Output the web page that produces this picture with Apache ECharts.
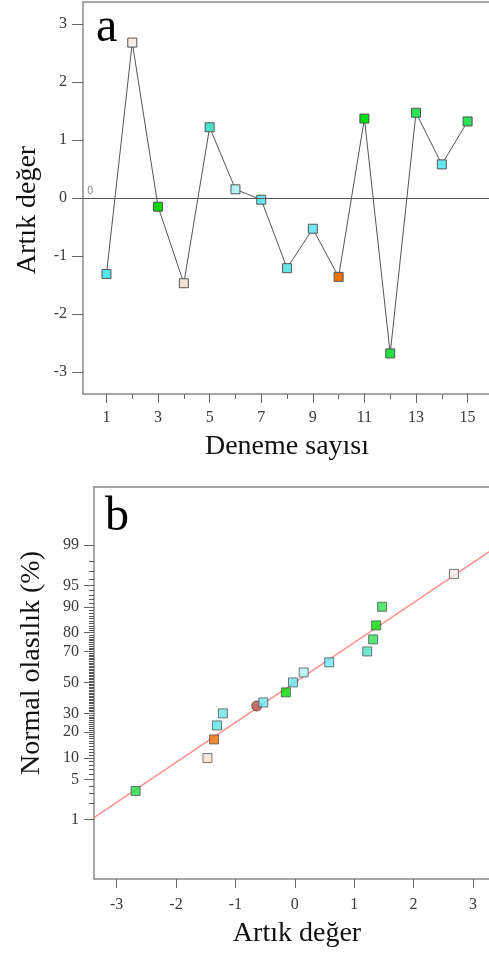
<!DOCTYPE html>
<html>
<head>
<meta charset="utf-8">
<script src="https://cdn.jsdelivr.net/npm/echarts@6/dist/echarts.min.js"></script>
<style>
html,body{margin:0;padding:0;background:#fff;}
#chart{width:489px;height:954px;}
</style>
</head>
<body>
<div id="chart"></div>
<script>
// ---------- DATA ----------
const runs = [1, 2, 3, 4, 5, 6, 7, 8, 9, 10, 11, 12, 13, 14, 15];
const residuals = [-1.31, 2.68, -0.15, -1.47, 1.22, 0.15, -0.03, -1.21, -0.53, -1.36, 1.37, -2.68, 1.47, 0.58, 1.32];
const normalProb = [23.3, 96.7, 43.3, 10.0, 70.0, 56.7, 50.0, 30.0, 36.7, 16.7, 83.3, 3.3, 90.0, 63.3, 76.7];
const pointColors = ['#55e6e6', '#f8efe6', '#00d800', '#f2e2d2', '#48e2c8', '#b0f4f4', '#66e6ee', '#66e6e6',
                     '#70e8f2', '#f07000', '#00e000', '#22e044', '#2ee055', '#66e8f2', '#2ee055'];
const circleResidual = [-0.64];
const circleProb = [34.5];
const fitLineX = [-3.38, 3.27];
const fitLineProb = [1.1, 98.65];

const runLabelTicks = [1, 3, 5, 7, 9, 11, 13, 15];
const runMinorTicks = [2, 4, 6, 8, 10, 12, 14];
const residualTicksA = [-3, -2, -1, 0, 1, 2, 3];
const residualTicksB = [-3, -2, -1, 0, 1, 2, 3];
const probTickLabels = [1, 5, 10, 20, 30, 50, 70, 80, 90, 95, 99];

// ---------- helpers ----------
function probit(p) {
  // Acklam inverse normal CDF
  const a = [-3.969683028665376e+01, 2.209460984245205e+02, -2.759285104469687e+02, 1.383577518672690e+02, -3.066479806614716e+01, 2.506628277459239e+00];
  const b = [-5.447609879822406e+01, 1.615858368580409e+02, -1.556989798598866e+02, 6.680131188771972e+01, -1.328068155288572e+01];
  const c = [-7.784894002430293e-03, -3.223964580411365e-01, -2.400758277161838e+00, -2.549732539343734e+00, 4.374664141464968e+00, 2.938163982698783e+00];
  const d = [7.784695709041462e-03, 3.224671290700398e-01, 2.445134137142996e+00, 3.754408661907416e+00];
  const pl = 0.02425, ph = 1 - pl;
  let q, r;
  if (p < pl) {
    q = Math.sqrt(-2 * Math.log(p));
    return (((((c[0]*q+c[1])*q+c[2])*q+c[3])*q+c[4])*q+c[5]) / ((((d[0]*q+d[1])*q+d[2])*q+d[3])*q+1);
  } else if (p <= ph) {
    q = p - 0.5; r = q * q;
    return (((((a[0]*r+a[1])*r+a[2])*r+a[3])*r+a[4])*r+a[5])*q / (((((b[0]*r+b[1])*r+b[2])*r+b[3])*r+b[4])*r+1);
  } else {
    q = Math.sqrt(-2 * Math.log(1 - p));
    return -(((((c[0]*q+c[1])*q+c[2])*q+c[3])*q+c[4])*q+c[5]) / ((((d[0]*q+d[1])*q+d[2])*q+d[3])*q+1);
  }
}
const zOf = pct => probit(pct / 100);

const minorProb = [];
for (let v = 2; v <= 98; v++) {
  if (probTickLabels.indexOf(v) >= 0) continue;
  minorProb.push(v);
}

const SERIF = "'Liberation Serif', 'Times New Roman', serif";
const AXIS_COLOR = '#8a8a8a';
const TICK_COLOR = '#666';
const LABEL_STYLE = { fontFamily: SERIF, fontSize: 16, color: '#3a3a3a' };

const majorZ = probTickLabels.map(zOf);
const minorZ = minorProb.map(zOf);

function labelForZ(v) {
  let best = 0, bd = 1e9;
  majorZ.forEach((z, i) => { const dd = Math.abs(z - v); if (dd < bd) { bd = dd; best = i; } });
  return String(probTickLabels[best]);
}

const chart = echarts.init(document.getElementById('chart'), null, { renderer: 'canvas' });

const option = {
  animation: false,
  backgroundColor: '#fff',
  grid: [
    { left: 83, top: 2, right: 0, height: 392, containLabel: false },
    { left: 94, top: 487, right: 0, height: 392, containLabel: false }
  ],
  xAxis: [
    { // 0: chart a bottom, major
      gridIndex: 0, type: 'value', min: 0.09, max: 15.83, position: 'bottom',
      axisLine: { show: true, onZero: false, lineStyle: { color: AXIS_COLOR, width: 1.5 } },
      axisTick: { show: true, length: 9, customValues: runLabelTicks, lineStyle: { color: TICK_COLOR, width: 1 } },
      axisLabel: Object.assign({ customValues: runLabelTicks, margin: 16 }, LABEL_STYLE),
      splitLine: { show: false }
    },
    { // 1: chart a bottom, minor
      gridIndex: 0, type: 'value', min: 0.09, max: 15.83, position: 'bottom',
      axisLine: { show: false, onZero: false },
      axisTick: { show: true, length: 5, customValues: runMinorTicks, lineStyle: { color: TICK_COLOR, width: 1 } },
      axisLabel: { show: false }, splitLine: { show: false }
    },
    { // 2: chart a top border
      gridIndex: 0, type: 'value', min: 0.09, max: 15.83, position: 'top',
      axisLine: { show: true, onZero: false, lineStyle: { color: AXIS_COLOR, width: 1.5 } },
      axisTick: { show: false }, axisLabel: { show: false }, splitLine: { show: false }
    },
    { // 3: chart b bottom
      gridIndex: 1, type: 'value', min: -3.38, max: 3.27, position: 'bottom',
      axisLine: { show: true, onZero: false, lineStyle: { color: AXIS_COLOR, width: 1.5 } },
      axisTick: { show: true, length: 9, customValues: residualTicksB, lineStyle: { color: TICK_COLOR, width: 1 } },
      axisLabel: Object.assign({ customValues: residualTicksB, margin: 18 }, LABEL_STYLE),
      splitLine: { show: false }
    },
    { // 4: chart b top border
      gridIndex: 1, type: 'value', min: -3.38, max: 3.27, position: 'top',
      axisLine: { show: true, onZero: false, lineStyle: { color: AXIS_COLOR, width: 1.5 } },
      axisTick: { show: false }, axisLabel: { show: false }, splitLine: { show: false }
    }
  ],
  yAxis: [
    { // 0: chart a
      gridIndex: 0, type: 'value', min: -3.38, max: 3.38, position: 'left',
      axisLine: { show: true, onZero: false, lineStyle: { color: AXIS_COLOR, width: 1.5 } },
      axisTick: { show: true, length: 11, customValues: residualTicksA, lineStyle: { color: TICK_COLOR, width: 1 } },
      axisLabel: Object.assign({ customValues: residualTicksA, margin: 16 }, LABEL_STYLE),
      splitLine: { show: false }
    },
    { // 1: chart b major
      gridIndex: 1, type: 'value', min: -3.33, max: 3.31, position: 'left',
      axisLine: { show: true, onZero: false, lineStyle: { color: AXIS_COLOR, width: 1.5 } },
      axisTick: { show: true, length: 10, customValues: majorZ, lineStyle: { color: TICK_COLOR, width: 1 } },
      axisLabel: Object.assign({ customValues: majorZ, margin: 15, formatter: labelForZ }, LABEL_STYLE),
      splitLine: { show: false }
    },
    { // 2: chart b minor
      gridIndex: 1, type: 'value', min: -3.33, max: 3.31, position: 'left',
      axisLine: { show: false, onZero: false },
      axisTick: { show: true, length: 5, customValues: minorZ, lineStyle: { color: '#555', width: 1 } },
      axisLabel: { show: false }, splitLine: { show: false }
    }
  ],
  graphic: [
    { type: 'text', left: 96, top: 4, style: { text: 'a', font: '48px ' + SERIF, fill: '#000' } },
    { type: 'text', left: 105, top: 493, style: { text: 'b', font: '48px ' + SERIF, fill: '#000' } },
    { type: 'text', x: 287, y: 447, style: { text: 'Deneme sayısı', font: '28px ' + SERIF, fill: '#111', align: 'center', verticalAlign: 'middle' } },
    { type: 'text', x: 297, y: 934, style: { text: 'Artık değer', font: '28px ' + SERIF, fill: '#111', align: 'center', verticalAlign: 'middle' } },
    { type: 'text', x: 28, y: 210, rotation: Math.PI / 2, style: { text: 'Artık değer', font: '28px ' + SERIF, fill: '#111', align: 'center', verticalAlign: 'middle' } },
    { type: 'text', x: 32, y: 663, rotation: Math.PI / 2, style: { text: 'Normal olasılık (%)', font: '28px ' + SERIF, fill: '#111', align: 'center', verticalAlign: 'middle' } }
  ],
  series: [
    {
      type: 'line', xAxisIndex: 0, yAxisIndex: 0,
      data: runs.map((r, i) => ({ value: [r, residuals[i]], itemStyle: { color: pointColors[i] } })),
      symbol: 'rect', symbolSize: 9, showSymbol: true,
      lineStyle: { color: '#555', width: 1 },
      itemStyle: { borderColor: '#555', borderWidth: 1 },
      emphasis: { disabled: true }, silent: true,
      markLine: {
        silent: true, symbol: 'none', animation: false,
        lineStyle: { color: '#555', width: 1, type: 'solid' },
        label: { show: true, position: 'insideStartTop', formatter: '0', fontSize: 10, color: '#888', fontFamily: 'DejaVu Sans', distance: [4, 2] },
        data: [{ yAxis: 0 }]
      },
      z: 3
    },
    {
      type: 'line', xAxisIndex: 3, yAxisIndex: 1,
      data: fitLineX.map((x, i) => [x, zOf(fitLineProb[i])]),
      symbol: 'none', lineStyle: { color: '#ff7a7a', width: 1.5, opacity: 0.85 },
      silent: true, z: 2
    },
    {
      type: 'scatter', xAxisIndex: 3, yAxisIndex: 1,
      data: circleResidual.map((x, i) => [x, zOf(circleProb[i])]),
      symbol: 'circle', symbolSize: 10,
      itemStyle: { color: '#b5504a', borderColor: '#5a3030', borderWidth: 1 },
      silent: true, z: 3
    },
    {
      type: 'scatter', xAxisIndex: 3, yAxisIndex: 1,
      data: residuals.map((x, i) => ({ value: [x, zOf(normalProb[i])], itemStyle: { color: pointColors[i] } })),
      symbol: 'rect', symbolSize: 9,
      itemStyle: { borderColor: '#555', borderWidth: 1 },
      silent: true, z: 4
    }
  ]
};
chart.setOption(option);
</script>
</body>
</html>
